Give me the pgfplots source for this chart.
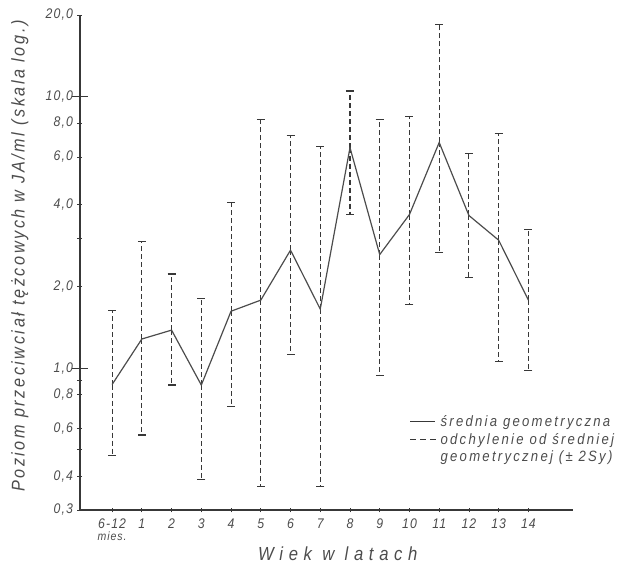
\documentclass[border=0pt]{standalone}
\usepackage{fontspec}
\setmainfont{Liberation Sans}[FakeStretch=0.88]
\usepackage{pgfplots}
\usepackage{pgfplotstable}
\pgfplotsset{compat=1.18}

% age group, geometric mean, mean - 2Sy, mean + 2Sy  (IU/ml)
\pgfplotstableread{
x  mean   lo     hi
0  0.87   0.475  1.63
1  1.28   0.567  2.93
2  1.38   0.866  2.22
3  0.866  0.388  1.81
4  1.62   0.72   4.08
5  1.78   0.365  8.23
6  2.72   1.12   7.19
7  1.65   0.365  6.55
8  6.49   3.68   10.5
9  2.62   0.94   8.23
10 3.68   1.71   8.44
11 6.78   2.67   18.4
12 3.65   2.16   6.17
13 2.96   1.06   7.31
14 1.78   0.98   3.24
}\antibodies

\definecolor{ink}{gray}{0.22}
\definecolor{lettering}{gray}{0.30}

\begin{document}
\begin{tikzpicture}
\useasboundingbox (-80bp,-58bp) rectangle (553bp,510bp);
\begin{axis}[
  at={(0,0)}, anchor=south west,
  scale only axis, width=493bp, height=495bp,
  xmin=-1.08, xmax=15.5,
  ymode=log, ymin=0.3, ymax=20,
  axis x line=bottom, axis y line=left,
  axis line style={ink, line width=1.1pt, -},
  xtick={0,...,14},
  xticklabels={{6-12\\[-3pt]{\fontsize{12}{12}\selectfont mies.}},1,2,3,4,5,6,7,8,9,10,11,12,13,14},
  ytick={0.3,0.4,0.5,0.6,0.8,0.9,1,2,3,4,6,8,10,20},
  yticklabels={{0,3},{0,4},{},{0,6},{0,8},{},{1,0},{2,0},{},{4,0},{6,0},{8,0},{10,0},{20,0}},
  minor tick num=0,
  tick align=center,
  major tick length=5bp,
  tick style={ink, line width=0.8pt},
  extra y ticks={1,10},
  extra y tick labels={},
  extra y tick style={major tick length=16bp, tick style={ink, line width=1pt}},
  tick label style={lettering, font=\fontsize{14}{15}\selectfont\itshape\addfontfeature{LetterSpace=8}},
  x tick label style={align=center, anchor=north, yshift=-3bp},
  y tick label style={xshift=-1bp},
  xlabel={\addfontfeature{LetterSpace=30}Wiek w latach},
  xlabel style={lettering, font=\fontsize{19}{20}\selectfont\itshape,
    at={(axis description cs:0.523,0)}, anchor=base, yshift=-50bp},
  ylabel={\addfontfeature{LetterSpace=14}Poziom przeciwciał tężcowych w JA/ml (skala log.)},
  ylabel style={lettering, font=\fontsize{18.5}{19}\selectfont\itshape,
    at={(axis description cs:-0.122,0.513)}, anchor=center},
  legend style={draw=none, fill=none, at={(0.668,0.195)}, anchor=north west,
    font=\fontsize{15}{16}\selectfont\itshape\addfontfeature{LetterSpace=15}, text=lettering,
    row sep=1bp, inner sep=0pt},
  legend cell align=left,
  clip=false,
]
% deviation bars: dashed stems with solid end caps
\addplot[forget plot, draw=none, mark=none,
  error bars/.cd, y dir=both, y explicit,
  error mark=-,
  error bar style={draw=ink, line width=1.1pt, dash pattern=on 5bp off 3bp},
  error mark options={draw=ink, solid, mark size=4bp, line width=1.2pt, rotate=90}]
  table[x=x, y=mean,
        y error plus expr=\thisrow{hi}-\thisrow{mean},
        y error minus expr=\thisrow{mean}-\thisrow{lo}] {\antibodies};
% geometric mean
\addplot[forget plot, ink!90, line width=1.2pt, mark=none]
  table[x=x, y=mean] {\antibodies};

\addlegendimage{legend image code/.code={\draw[ink, line width=1.1pt] (0bp,0bp) -- (25bp,0bp);}}
\addlegendentry{średnia geometryczna\rule[-12bp]{0pt}{0pt}}
\addlegendimage{legend image code/.code={\draw[ink, line width=1.1pt, dash pattern=on 6bp off 4bp] (0bp,0bp) -- (28bp,0bp);}}
\addlegendentry{odchylenie od średniej}
\addlegendimage{empty legend}
\addlegendentry{geometrycznej (± 2Sy)}
\end{axis}
\end{tikzpicture}
\end{document}
